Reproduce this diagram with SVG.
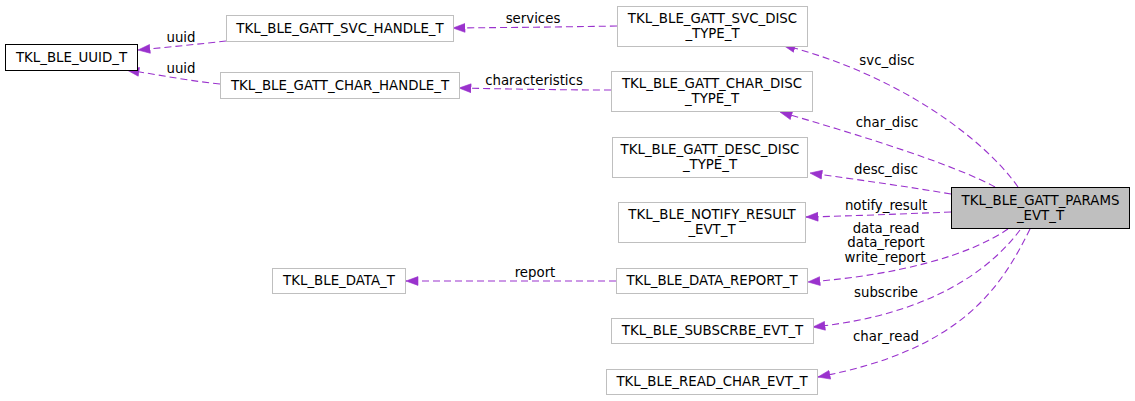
<svg xmlns="http://www.w3.org/2000/svg" width="1135" height="401" viewBox="0 0 1135 401">
<style>
.n rect{fill:#ffffff;stroke:#bfbfbf;stroke-width:1}
.n.doc rect{stroke:#000000}
.n.cur rect{fill:#bfbfbf;stroke:#000000}
text{font-family:"DejaVu Sans","Liberation Sans",sans-serif;font-size:13.33px;fill:#000000;text-anchor:middle}
.e path{fill:none;stroke:#9a32cd;stroke-width:1.1;stroke-dasharray:7,4;marker-end:url(#ah)}
</style>
<defs>
<marker id="ah" markerUnits="userSpaceOnUse" markerWidth="13" markerHeight="10" viewBox="0 0 13 10" refX="12.5" refY="5" orient="auto">
<path d="M0.5,0.6 L12.5,5 L0.5,9.4 z" fill="#9a32cd" stroke="#9a32cd" stroke-width="0.6"/>
</marker>
</defs>
<rect width="1135" height="401" fill="#ffffff"/>
<g id="connectors" class="e">
<path d="M226,41 C200,44 170,47 138,50"/>
<path d="M220,84 C190,81 160,75 127,70"/>
<path d="M617,26 C560,27 510,27.5 453,28"/>
<path d="M611,90 C560,90 510,89 459,88"/>
<path d="M1018,187 C985,140 900,75 783,45"/>
<path d="M995,187 C955,165 860,135 780,112"/>
<path d="M951,194 C910,187 860,180 810,173"/>
<path d="M951,212 C900,214 850,216 806,217"/>
<path d="M1008,229 C970,255 900,275 808,282"/>
<path d="M1020,230 C990,270 930,315 813,327"/>
<path d="M1030,229 C1000,290 960,350 818,377"/>
<path d="M616,281 L406,281"/>
<text x="181" y="42">uuid</text>
<text x="181" y="73">uuid</text>
<text x="533" y="23">services</text>
<text x="534" y="85">characteristics</text>
<text x="887" y="65">svc_disc</text>
<text x="887" y="127">char_disc</text>
<text x="886" y="174">desc_disc</text>
<text x="886" y="210">notify_result</text>
<text x="886" y="233">data_read</text>
<text x="886" y="247">data_report</text>
<text x="885" y="262">write_report</text>
<text x="886" y="297">subscribe</text>
<text x="886" y="341">char_read</text>
<text x="535" y="277">report</text>
</g>
<g id="uuid" class="n doc"><rect x="5.5" y="44.5" width="132" height="26"/><text x="71.5" y="61.5">TKL_BLE_UUID_T</text></g>
<g id="svc_handle" class="n"><rect x="226.5" y="15.5" width="227" height="26"/><text x="340" y="32.5">TKL_BLE_GATT_SVC_HANDLE_T</text></g>
<g id="char_handle" class="n"><rect x="220.5" y="72.5" width="239" height="26"/><text x="340" y="89.5">TKL_BLE_GATT_CHAR_HANDLE_T</text></g>
<g id="svc_disc" class="n"><rect x="617.5" y="6.5" width="190" height="40"/><text x="712.5" y="23">TKL_BLE_GATT_SVC_DISC</text><text x="712.5" y="38">_TYPE_T</text></g>
<g id="char_disc" class="n"><rect x="611.5" y="71.5" width="201" height="40"/><text x="712" y="88">TKL_BLE_GATT_CHAR_DISC</text><text x="712" y="103">_TYPE_T</text></g>
<g id="desc_disc" class="n"><rect x="612.5" y="137.5" width="195" height="40"/><text x="710" y="154">TKL_BLE_GATT_DESC_DISC</text><text x="710" y="169">_TYPE_T</text></g>
<g id="notify" class="n"><rect x="618.5" y="202.5" width="187" height="40"/><text x="712" y="219">TKL_BLE_NOTIFY_RESULT</text><text x="712" y="234">_EVT_T</text></g>
<g id="params" class="n cur"><rect x="951.5" y="187.5" width="178" height="41"/><text x="1040.5" y="205">TKL_BLE_GATT_PARAMS</text><text x="1040.5" y="220">_EVT_T</text></g>
<g id="data_t" class="n"><rect x="272.5" y="268.5" width="133" height="25"/><text x="339" y="285">TKL_BLE_DATA_T</text></g>
<g id="data_report" class="n"><rect x="616.5" y="268.5" width="191" height="25"/><text x="712" y="285">TKL_BLE_DATA_REPORT_T</text></g>
<g id="subscribe" class="n"><rect x="611.5" y="318.5" width="202" height="25"/><text x="712.5" y="335">TKL_BLE_SUBSCRBE_EVT_T</text></g>
<g id="read_char" class="n"><rect x="606.5" y="369.5" width="211" height="25"/><text x="712" y="386">TKL_BLE_READ_CHAR_EVT_T</text></g>
</svg>
